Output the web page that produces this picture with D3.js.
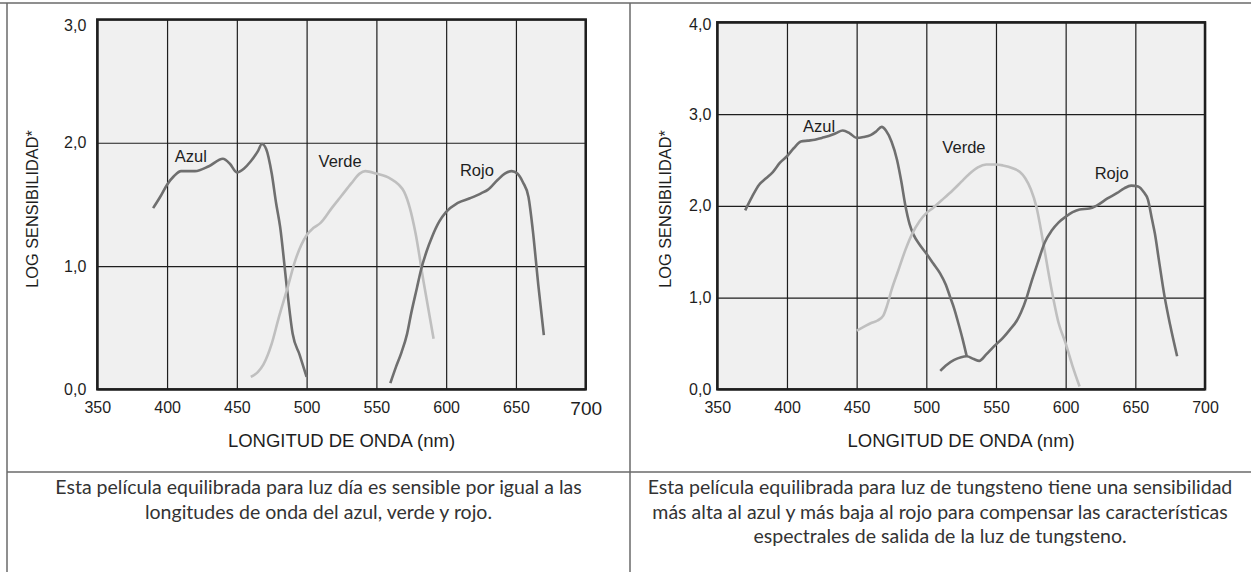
<!DOCTYPE html>
<html>
<head>
<meta charset="utf-8">
<script src="https://cdn.jsdelivr.net/npm/d3@7"></script>
<style>
  body { margin: 0; background: #fff; }
  svg { display: block; font-family: "Liberation Sans", Arimo, Arial, sans-serif; }
</style>
</head>
<body>
<svg id="chart" width="1251" height="572"></svg>
<script>
// wavelength ticks (nm) and log sensitivity ticks
const xTicks = [350, 400, 450, 500, 550, 600, 650, 700];
const yTicksDay = [0, 1, 2, 3];
const yTicksTungsten = [0, 1, 2, 3, 4];

// daylight film curves: [wavelength, log sensitivity]
const azulDay = [[390,1.47],[395,1.56],[400,1.66],[405,1.73],[410,1.77],[420,1.77],[430,1.81],[440,1.87],
  [445,1.83],[450,1.76],[455,1.79],[460,1.85],[465,1.93],[468,1.99],[471,1.95],[475,1.75],[478,1.52],
  [481,1.32],[486,0.81],[490,0.45],[495,0.28],[500,0.10]];
const verdeDay = [[460,0.10],[465,0.14],[469,0.20],[475,0.37],[480,0.58],[486,0.81],[492,1.05],[500,1.25],
  [505,1.31],[510,1.35],[518,1.47],[525,1.57],[532,1.67],[538,1.75],[542,1.77],[550,1.75],[560,1.71],
  [566,1.66],[570,1.60],[574,1.47],[578,1.27],[584,0.86],[591,0.41]];
const rojoDay = [[560,0.05],[564,0.18],[568,0.30],[572,0.45],[575,0.62],[579,0.82],[582,0.97],[586,1.12],
  [590,1.24],[595,1.36],[600,1.44],[608,1.51],[617,1.55],[625,1.59],[630,1.62],[637,1.70],[642,1.75],
  [647,1.77],[651,1.75],[655,1.68],[659,1.56],[662,1.30],[666,0.85],[670,0.44]];

// tungsten film curves
const azulTungsten = [[370,1.95],[375,2.10],[380,2.23],[385,2.30],[390,2.37],[395,2.47],[400,2.54],[405,2.63],
  [410,2.70],[415,2.71],[420,2.72],[425,2.74],[430,2.76],[435,2.79],[440,2.82],[445,2.79],[450,2.74],
  [455,2.75],[460,2.77],[464,2.81],[468,2.86],[471,2.82],[475,2.70],[479,2.50],[482,2.27],[485,2.00],
  [488,1.80],[491,1.68],[495,1.58],[500,1.48],[505,1.37],[510,1.26],[514,1.14],[517,1.01],[520,0.88],
  [523,0.72],[526,0.55],[529,0.36]];
const verdeTungsten = [[450,0.64],[455,0.68],[460,0.72],[465,0.75],[469,0.80],[472,0.92],[475,1.08],[480,1.30],
  [485,1.52],[490,1.70],[495,1.83],[500,1.92],[505,1.98],[511,2.06],[519,2.17],[525,2.26],[531,2.35],
  [537,2.42],[543,2.45],[550,2.45],[555,2.44],[562,2.41],[567,2.37],[571,2.30],[575,2.18],[579,1.99],
  [584,1.59],[589,1.16],[595,0.72],[600,0.50],[605,0.25],[610,0.03]];
const rojoTungsten = [[510,0.20],[515,0.27],[520,0.32],[525,0.35],[529,0.36],[534,0.33],[538,0.31],[543,0.38],
  [548,0.46],[555,0.56],[560,0.65],[565,0.75],[568,0.84],[572,1.00],[575,1.15],[580,1.38],[585,1.60],
  [590,1.73],[595,1.82],[600,1.88],[605,1.93],[610,1.96],[617,1.97],[622,2.00],[630,2.08],[637,2.14],
  [642,2.19],[647,2.22],[652,2.21],[656,2.15],[659,2.07],[662,1.85],[664,1.70],[667,1.40],[671,1.01],
  [675,0.70],[680,0.36]];

// curve labels: [text, wavelength, value]
const labelsDay = [["Azul", 417, 1.845], ["Verde", 524, 1.80], ["Rojo", 622, 1.73]];
const labelsTungsten = [["Azul", 423, 2.80], ["Verde", 527, 2.58], ["Rojo", 633, 2.29]];

const xTitle = "LONGITUD DE ONDA (nm)";
const yTitle = "LOG SENSIBILIDAD*";
const captionDay = [
  "Esta película equilibrada para luz día es sensible por igual a las",
  "longitudes de onda del azul, verde y rojo."
];
const captionTungsten = [
  "Esta película equilibrada para luz de tungsteno tiene una sensibilidad",
  "más alta al azul y más baja al rojo para compensar las características",
  "espectrales de salida de la luz de tungsteno."
];

const dark = "#6f6f6f", light = "#bfbfbf";
const esFormat = d3.formatLocale({decimal: ",", thousands: ".", grouping: [3], currency: ["", "€"]}).format(".1f");

const svg = d3.select("#chart");

// table frame around the two panels
const frame = svg.append("g").attr("stroke", "#6a6a6a").attr("stroke-width", 1.5);
frame.append("line").attr("x1", 0).attr("x2", 1251).attr("y1", 3).attr("y2", 3);
frame.append("line").attr("x1", 7).attr("x2", 7).attr("y1", 3).attr("y2", 572);
frame.append("line").attr("x1", 630).attr("x2", 630).attr("y1", 3).attr("y2", 572);
frame.append("line").attr("x1", 7).attr("x2", 1251).attr("y1", 472).attr("y2", 472);

const panels = [
  {
    left: 97.3, right: 585.7, top: 19.5, bottom: 389.3, yMax: 3, yTicks: yTicksDay,
    series: [[azulDay, dark], [verdeDay, light], [rojoDay, dark]],
    labels: labelsDay, yPad: 11, topTickDy: 6, bigLastTick: true,
    yTitleX: 38, caption: captionDay, captionX: 318.5
  },
  {
    left: 717.3, right: 1205, top: 22.3, bottom: 389.3, yMax: 4, yTicks: yTicksTungsten,
    series: [[azulTungsten, dark], [verdeTungsten, light], [rojoTungsten, dark]],
    labels: labelsTungsten, yPad: 6, topTickDy: 2, bigLastTick: false,
    yTitleX: 671, caption: captionTungsten, captionX: 940
  }
];

panels.forEach(p => {
  const w = p.right - p.left, h = p.bottom - p.top;
  const x = d3.scaleLinear().domain([350, 700]).range([p.left, p.right]);
  const y = d3.scaleLinear().domain([0, p.yMax]).range([p.bottom, p.top]);

  svg.append("rect")
    .attr("x", p.left).attr("y", p.top).attr("width", w).attr("height", h)
    .attr("fill", "#f0f0f0");

  const gx = svg.append("g")
    .attr("transform", `translate(0,${p.bottom})`)
    .call(d3.axisBottom(x).tickValues(xTicks).tickSize(-h).tickPadding(12).tickFormat(d3.format("d")));
  const gy = svg.append("g")
    .attr("transform", `translate(${p.left},0)`)
    .call(d3.axisLeft(y).tickValues(p.yTicks).tickSize(-w).tickPadding(p.yPad).tickFormat(esFormat));

  [gx, gy].forEach(g => {
    g.attr("font-family", null);
    g.select(".domain").remove();
    g.selectAll(".tick line").attr("stroke", "#1e1e1e").attr("stroke-width", 1.2);
    g.selectAll(".tick text").attr("fill", "#1e1e1e").attr("font-size", 16);
  });
  // top label sits a little below the frame line
  gy.selectAll(".tick text").filter(d => d === p.yMax)
    .attr("transform", `translate(0,${p.topTickDy})`);
  if (p.bigLastTick) {
    gx.selectAll(".tick text").filter(d => d === 700).attr("font-size", 19);
  }

  const line = d3.line().x(d => x(d[0])).y(d => y(d[1])).curve(d3.curveMonotoneX);
  p.series.forEach(([data, color]) => {
    svg.append("path")
      .datum(data)
      .attr("d", line)
      .attr("fill", "none")
      .attr("stroke", color)
      .attr("stroke-width", 2.6)
      .attr("stroke-linejoin", "round");
  });

  svg.append("g").selectAll("text")
    .data(p.labels)
    .join("text")
    .attr("x", d => x(d[1]))
    .attr("y", d => y(d[2]))
    .attr("text-anchor", "middle")
    .attr("font-size", 16.5)
    .attr("fill", "#1e1e1e")
    .text(d => d[0]);

  // plot frame on top
  svg.append("rect")
    .attr("x", p.left).attr("y", p.top).attr("width", w).attr("height", h)
    .attr("fill", "none").attr("stroke", "#1e1e1e").attr("stroke-width", 2.5);

  svg.append("text")
    .attr("x", (p.left + p.right) / 2).attr("y", 447)
    .attr("text-anchor", "middle").attr("font-size", 18.5).attr("fill", "#1e1e1e")
    .text(xTitle);

  svg.append("text")
    .attr("transform", `translate(${p.yTitleX},209) rotate(-90)`)
    .attr("text-anchor", "middle").attr("font-size", 16.3).attr("fill", "#1e1e1e")
    .text(yTitle);
});

// captions below the charts, sized so the long tungsten line fills its cell
const capFont = "Lato, 'Noto Sans', sans-serif";
const probe = svg.append("text").attr("font-family", capFont).attr("font-size", 16).text(captionTungsten[0]);
const capSize = 16 * 585 / probe.node().getComputedTextLength();
probe.remove();

panels.forEach(p => {
  svg.append("g").selectAll("text")
    .data(p.caption)
    .join("text")
    .attr("x", p.captionX)
    .attr("y", (d, i) => 489.5 + i * 24.2)
    .attr("dominant-baseline", "middle")
    .attr("text-anchor", "middle")
    .attr("font-family", capFont)
    .attr("font-size", capSize)
    .attr("fill", "#333")
    .text(d => d);
});
</script>
</body>
</html>
